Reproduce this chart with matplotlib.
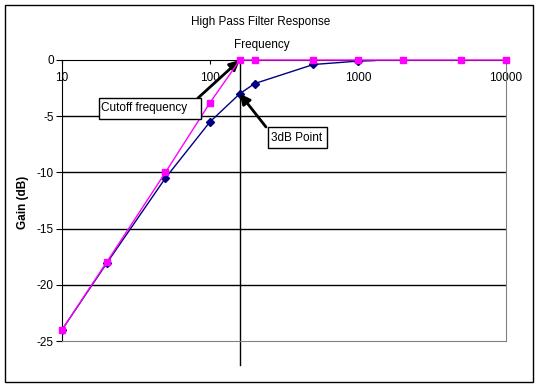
import matplotlib.pyplot as plt
import matplotlib.patches as patches
from matplotlib.ticker import NullLocator, FixedLocator, FixedFormatter

plt.rcParams['font.family'] = ['Liberation Sans', 'DejaVu Sans']
plt.rcParams['axes.unicode_minus'] = False

# asymptotic (ideal) response
freq_ideal = [10, 20, 50, 100, 159, 200, 500, 1000, 2000, 5000, 10000]
gain_ideal = [-24, -18, -10, -3.8, 0, 0, 0, 0, 0, 0, 0]
# measured / actual response
freq_act = [10, 20, 50, 100, 159, 200, 500, 1000, 1300]
gain_act = [-24, -18.1, -10.5, -5.5, -3.0, -2.1, -0.4, -0.1, -0.05]
cutoff = 159
yticks = [0, -5, -10, -15, -20, -25]
xticks = [10, 100, 1000, 10000]

W, H = 538, 388
fig = plt.figure(figsize=(W/100, H/100), dpi=100)
ax = fig.add_axes([62/W, 1-341/H, 444/W, 281/H])

def pixbox(x0, y0, x1, y1, **kw):
    # rectangle given in image pixels (top-left origin)
    r = patches.Rectangle((x0/W, 1-y1/H), (x1-x0)/W, (y1-y0)/H, transform=fig.transFigure, **kw)
    fig.patches.append(r)

# outer chart border
pixbox(5, 5, 533, 382, fill=False, edgecolor='black', lw=1)

ax.set_xscale('log')
ax.set_xlim(10, 10000)
ax.set_ylim(-25, 0)

for y in yticks[1:-1]:
    ax.axhline(y, color='black', lw=1, zorder=1)

ax.plot(freq_act, gain_act, color='#000080', lw=1, marker='D', ms=4,
        markevery=list(range(len(freq_act)-1)), zorder=3)
ax.plot(freq_ideal, gain_ideal, color='#FF00FF', lw=1, marker='s', ms=5, zorder=4, clip_on=False)

ax.axvline(cutoff, ymin=-0.085, ymax=1, color='black', lw=1, clip_on=False, zorder=2)

for s in ['right', 'bottom']:
    ax.spines[s].set_color('#808080')
    ax.spines[s].set_linestyle((0, (1, 1)))
ax.spines['left'].set_color('black')
ax.spines['top'].set_color('black')

ax.xaxis.set_major_locator(FixedLocator(xticks))
ax.xaxis.set_major_formatter(FixedFormatter([str(x) for x in xticks]))
ax.xaxis.set_minor_locator(NullLocator())
ax.tick_params(axis='x', top=True, labeltop=True, bottom=False, labelbottom=False,
               direction='in', length=3, pad=-17, labelsize=8.5)
ax.set_yticks(yticks)
ax.tick_params(axis='y', direction='out', length=4, labelsize=8.5, pad=2)

fig.text(261/W, 1-22/H, 'High Pass Filter Response', ha='center', va='center', fontsize=8.5)
fig.text(262/W, 1-45/H, 'Frequency', ha='center', va='center', fontsize=8.5)
fig.text(23/W, 1-202/H, 'Gain (dB)', ha='center', va='center', rotation=90,
         fontsize=8.5, fontweight='bold')

arrow = dict(arrowstyle='-|>', color='black', lw=2, mutation_scale=15, shrinkA=0, shrinkB=0)
ax.annotate('', xy=(cutoff, 0), xycoords='data', xytext=(198, H-98),
            textcoords='figure pixels', arrowprops=arrow)
ax.annotate('', xy=(cutoff, -3.0), xycoords='data', xytext=(266, H-127),
            textcoords='figure pixels', arrowprops=arrow)

# annotation boxes
pixbox(99, 98, 201, 119, facecolor='white', edgecolor='black', lw=1, zorder=5)
fig.text(101/W, 1-108.5/H, 'Cutoff frequency', ha='left', va='center', fontsize=8.5, zorder=6)
pixbox(268, 127, 327, 148, facecolor='white', edgecolor='black', lw=1, zorder=5)
fig.text(271/W, 1-137.5/H, '3dB Point', ha='left', va='center', fontsize=8.5, zorder=6)

fig.savefig('out.png', dpi=100)
